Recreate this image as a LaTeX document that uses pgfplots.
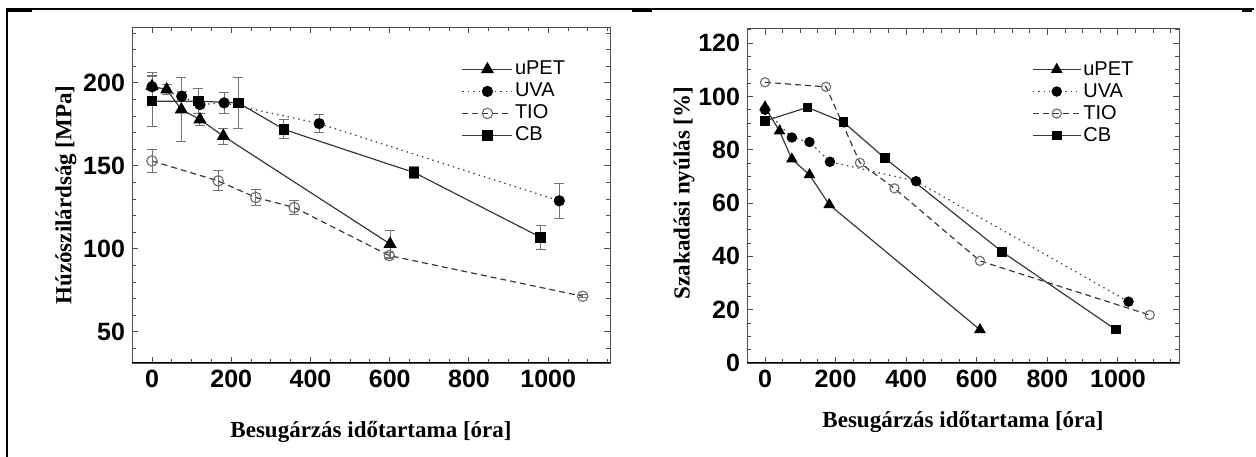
\documentclass[border=0pt]{standalone}
\usepackage{fontspec}
\setmainfont{Liberation Serif}
\setsansfont{Liberation Sans}
\usepackage{pgfplots}
\pgfplotsset{compat=1.18}
\usepackage{pgfplotstable}

\definecolor{ln}{gray}{0.22}
\definecolor{eb}{gray}{0.45}

% left panel: x  y  err
\pgfplotstableread{
x y e
0 198 6
37 196 3
74 184 19
121 178 3.5
180 168 4.8
601 103 8
}\upetL
\pgfplotstableread{
x y e
0 197.7 8.5
75 192 3
121 187 2
182 188 6.3
422 175.5 5.5
1028 129 10.5
}\uvaL
\pgfplotstableread{
x y e
0 153 7
167 141 6
262 131 5
359 125 4
599 96 2
1087 71.5 1
}\tioL
\pgfplotstableread{
x y e
0 189 15.5
117 189 7.5
218 188 15.5
333 172 5.7
662 146 3.5
981 107 7.3
}\cbL

% right panel
\pgfplotstableread{
x y
0 96
41 87
76 76.5
126 70.6
182 59.4
609 12.5
}\upetR
\pgfplotstableread{
x y
0 95
76 84.6
126 82.9
184 75.5
428 68.2
1030 23
}\uvaR
\pgfplotstableread{
x y
0 105.3
173 103.6
269 75.1
367 65.5
609 38.3
1090 18
}\tioR
\pgfplotstableread{
x y
0 90.8
120 95.9
222 90.4
340 76.8
672 41.7
994 12.5
}\cbR

\pgfplotsset{
  panel/.style={
    scale only axis,
    axis line style={black!70, line width=0.5pt},
    tick align=inside,
    major tick length=3bp, minor tick length=1.8bp,
    tick style={black!70, line width=0.5pt},
    /pgf/number format/assume math mode=true,
    /pgf/number format/1000 sep={},
    ticklabel style={font=\fontsize{12.5bp}{14bp}\selectfont\sffamily\bfseries},
    xtick={0,200,...,1000},
    minor xtick={-50,0,...,1150},
    legend style={draw=none, fill=none, inner sep=0pt, outer sep=0pt,
      font=\fontsize{10bp}{11bp}\selectfont\sffamily,
      nodes={inner sep=1bp, text height=7bp, text depth=1.5bp},
      row sep=0.5bp, cells={anchor=west}},
    legend image code/.code={\draw[mark repeat=2, mark phase=2, #1] plot coordinates {(0bp,0bp) (12.5bp,0bp) (25bp,0bp)};},
  },
  upet/.style={color=ln, line width=0.6pt, mark=triangle*, mark size=3.2bp, mark options={solid, fill=black, draw=black}},
  uva/.style={color=ln, line width=0.6pt, dash pattern=on 0.7bp off 2bp, mark=*, mark size=2.5bp, mark options={solid, fill=black, draw=black}},
  tio/.style={color=ln, line width=0.6pt, dash pattern=on 3bp off 2bp, mark=o, mark size=2.6bp, mark options={solid, fill=white, draw=black!55}},
  cb/.style={color=ln, line width=0.6pt, mark=square*, mark size=2.3bp, mark options={solid, fill=black, draw=black}},
  ebar/.style={error bars/.cd, y dir=both, y explicit,
    error bar style={eb, line width=0.5pt, solid},
    error mark options={rotate=90, mark size=2.5bp, eb, line width=0.5pt, solid}},
}

\begin{document}
\begin{tikzpicture}
\useasboundingbox (0,0) rectangle (628bp,228.5bp);

% frame
\draw[line width=1bp] (3.5bp,0) -- (3.5bp,224bp) -- (627bp,224bp);
\draw[line width=1.6bp] (4bp,223.2bp) -- (16bp,223.2bp);
\draw[line width=1.6bp] (316bp,223.2bp) -- (326bp,223.2bp);
\draw[line width=1.6bp] (621bp,223.2bp) -- (626bp,223.2bp);

\begin{axis}[panel,
  at={(66bp,47bp)}, anchor=south west,
  width=239bp, height=168bp,
  xmin=-50.5, xmax=1156, ymin=31.3, ymax=233.7,
  ytick={50,100,150,200}, minor ytick={40,50,...,230},
  legend style={at={(0.69,0.905)}, anchor=north west},
]
\addplot[upet, ebar] table[x=x, y=y, y error=e] {\upetL};
\addlegendentry{uPET}
\addplot[uva, ebar] table[x=x, y=y, y error=e] {\uvaL};
\addlegendentry{UVA}
\addplot[tio, ebar] table[x=x, y=y, y error=e] {\tioL};
\addlegendentry{TIO}
\addplot[cb, ebar] table[x=x, y=y, y error=e] {\cbL};
\addlegendentry{CB}
\draw[line width=1.2pt] (rel axis cs:0,0) -- (rel axis cs:1,0);
\end{axis}

\begin{axis}[panel,
  at={(373.5bp,47bp)}, anchor=south west,
  width=216bp, height=167bp,
  xmin=-51, xmax=1173, ymin=0, ymax=125.3,
  ytick={0,20,...,120}, minor ytick={0,5,...,125},
  legend style={at={(0.66,0.91)}, anchor=north west},
  legend image code/.code={\draw[mark repeat=2, mark phase=2, #1] plot coordinates {(0bp,0bp) (12bp,0bp) (24bp,0bp)};},
]
\addplot[upet, mark size=2.8bp] table[x=x, y=y] {\upetR};
\addlegendentry{uPET}
\addplot[uva, mark size=2.3bp] table[x=x, y=y] {\uvaR};
\addlegendentry{UVA}
\addplot[tio, mark size=2.3bp] table[x=x, y=y] {\tioR};
\addlegendentry{TIO}
\addplot[cb, mark size=2.1bp] table[x=x, y=y] {\cbR};
\addlegendentry{CB}
\draw[line width=1.2pt] (rel axis cs:0,0) -- (rel axis cs:1,0);
\end{axis}

\node[rotate=90, font=\fontsize{11.5bp}{13bp}\selectfont\bfseries] at (33bp,131bp) {Húzószilárdság [MPa]};
\node[rotate=90, font=\fontsize{11.5bp}{13bp}\selectfont\bfseries] at (342bp,132bp) {Szakadási nyúlás [\%]};
\node[font=\fontsize{11.5bp}{13bp}\selectfont\bfseries] at (185.5bp,12.7bp) {Besugárzás időtartama [óra]};
\node[font=\fontsize{11.5bp}{13bp}\selectfont\bfseries] at (481.5bp,17.7bp) {Besugárzás időtartama [óra]};
\end{tikzpicture}
\end{document}
